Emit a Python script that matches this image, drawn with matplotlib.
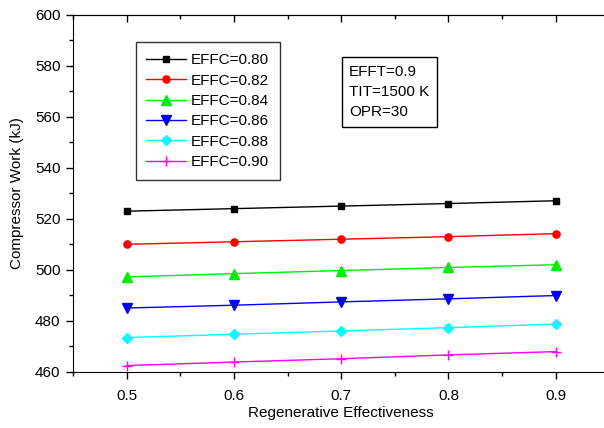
import numpy as np
import matplotlib
matplotlib.use('Agg')
import matplotlib.pyplot as plt
from matplotlib.ticker import MultipleLocator

plt.rcParams['font.family'] = ['Liberation Sans', 'DejaVu Sans']
plt.rcParams['font.size'] = 11

# ==================== 数据 ====================
regen_eff = [0.5, 0.6, 0.7, 0.8, 0.9]
effc_labels = ['EFFC=0.80', 'EFFC=0.82', 'EFFC=0.84', 'EFFC=0.86', 'EFFC=0.88', 'EFFC=0.90']
work_080 = [523.0, 524.0, 525.0, 526.0, 527.1]
work_082 = [510.0, 511.0, 512.0, 513.0, 514.2]
work_084 = [497.2, 498.5, 499.7, 500.9, 502.0]
work_086 = [485.0, 486.1, 487.4, 488.6, 489.9]
work_088 = [473.4, 474.7, 476.0, 477.3, 478.7]
work_090 = [462.4, 463.8, 465.1, 466.6, 467.9]
series = [work_080, work_082, work_084, work_086, work_088, work_090]

colors = ['black', 'red', '#00ee00', 'blue', 'cyan', 'magenta']
markers = ['s', 'o', '^', 'v', 'D', '+']
msizes = [5, 5.2, 7, 7, 5.5, 7]

fig = plt.figure(figsize=(6.04, 4.28), dpi=100)
ax = fig.add_axes([0.1209, 0.1315, 0.888, 0.8335])

for y, lab, c, m, ms in zip(series, effc_labels, colors, markers, msizes):
    ax.plot(regen_eff, y, color=c, marker=m, markersize=ms, linewidth=1.0,
            markeredgecolor=c, label=lab)

ax.set_xlim(0.45, 0.95)
ax.set_ylim(460, 600)
ax.xaxis.set_major_locator(MultipleLocator(0.1))
ax.xaxis.set_minor_locator(MultipleLocator(0.05))
ax.yaxis.set_major_locator(MultipleLocator(20))
ax.yaxis.set_minor_locator(MultipleLocator(10))
ax.tick_params(which='major', direction='out', length=5, width=1)
ax.tick_params(which='minor', direction='out', length=3, width=1)
ax.tick_params(axis='x', which='major', pad=7.5)
ax.tick_params(axis='y', which='major', pad=4)
ax.spines['right'].set_visible(False)
ax.xaxis.set_major_formatter(lambda v, p: f'{v:.1f}')

# 顶部刻度朝内
top = ax.secondary_xaxis('top')
top.xaxis.set_major_locator(MultipleLocator(0.1))
top.xaxis.set_minor_locator(MultipleLocator(0.05))
top.tick_params(which='major', direction='in', length=5, width=1, labeltop=False)
top.tick_params(which='minor', direction='in', length=3, width=1)

ax.set_xlabel('Regenerative Effectiveness', labelpad=2)
ax.set_ylabel('Compressor Work (kJ)', labelpad=8)

leg = ax.legend(loc='upper left', bbox_to_anchor=(0.117, 0.923), borderaxespad=0,
                fancybox=False, edgecolor='black', handlelength=2.6,
                labelspacing=0.42, borderpad=0.7, handletextpad=0.3)
leg.get_frame().set_linewidth(1.0)

ax.text(0.515, 0.86, 'EFFT=0.9\nTIT=1500 K\nOPR=30', transform=ax.transAxes,
        va='top', ha='left', linespacing=1.55,
        bbox=dict(boxstyle='square,pad=0.5', facecolor='white', edgecolor='black', linewidth=1.0))

fig.savefig('out.png', dpi=100)
